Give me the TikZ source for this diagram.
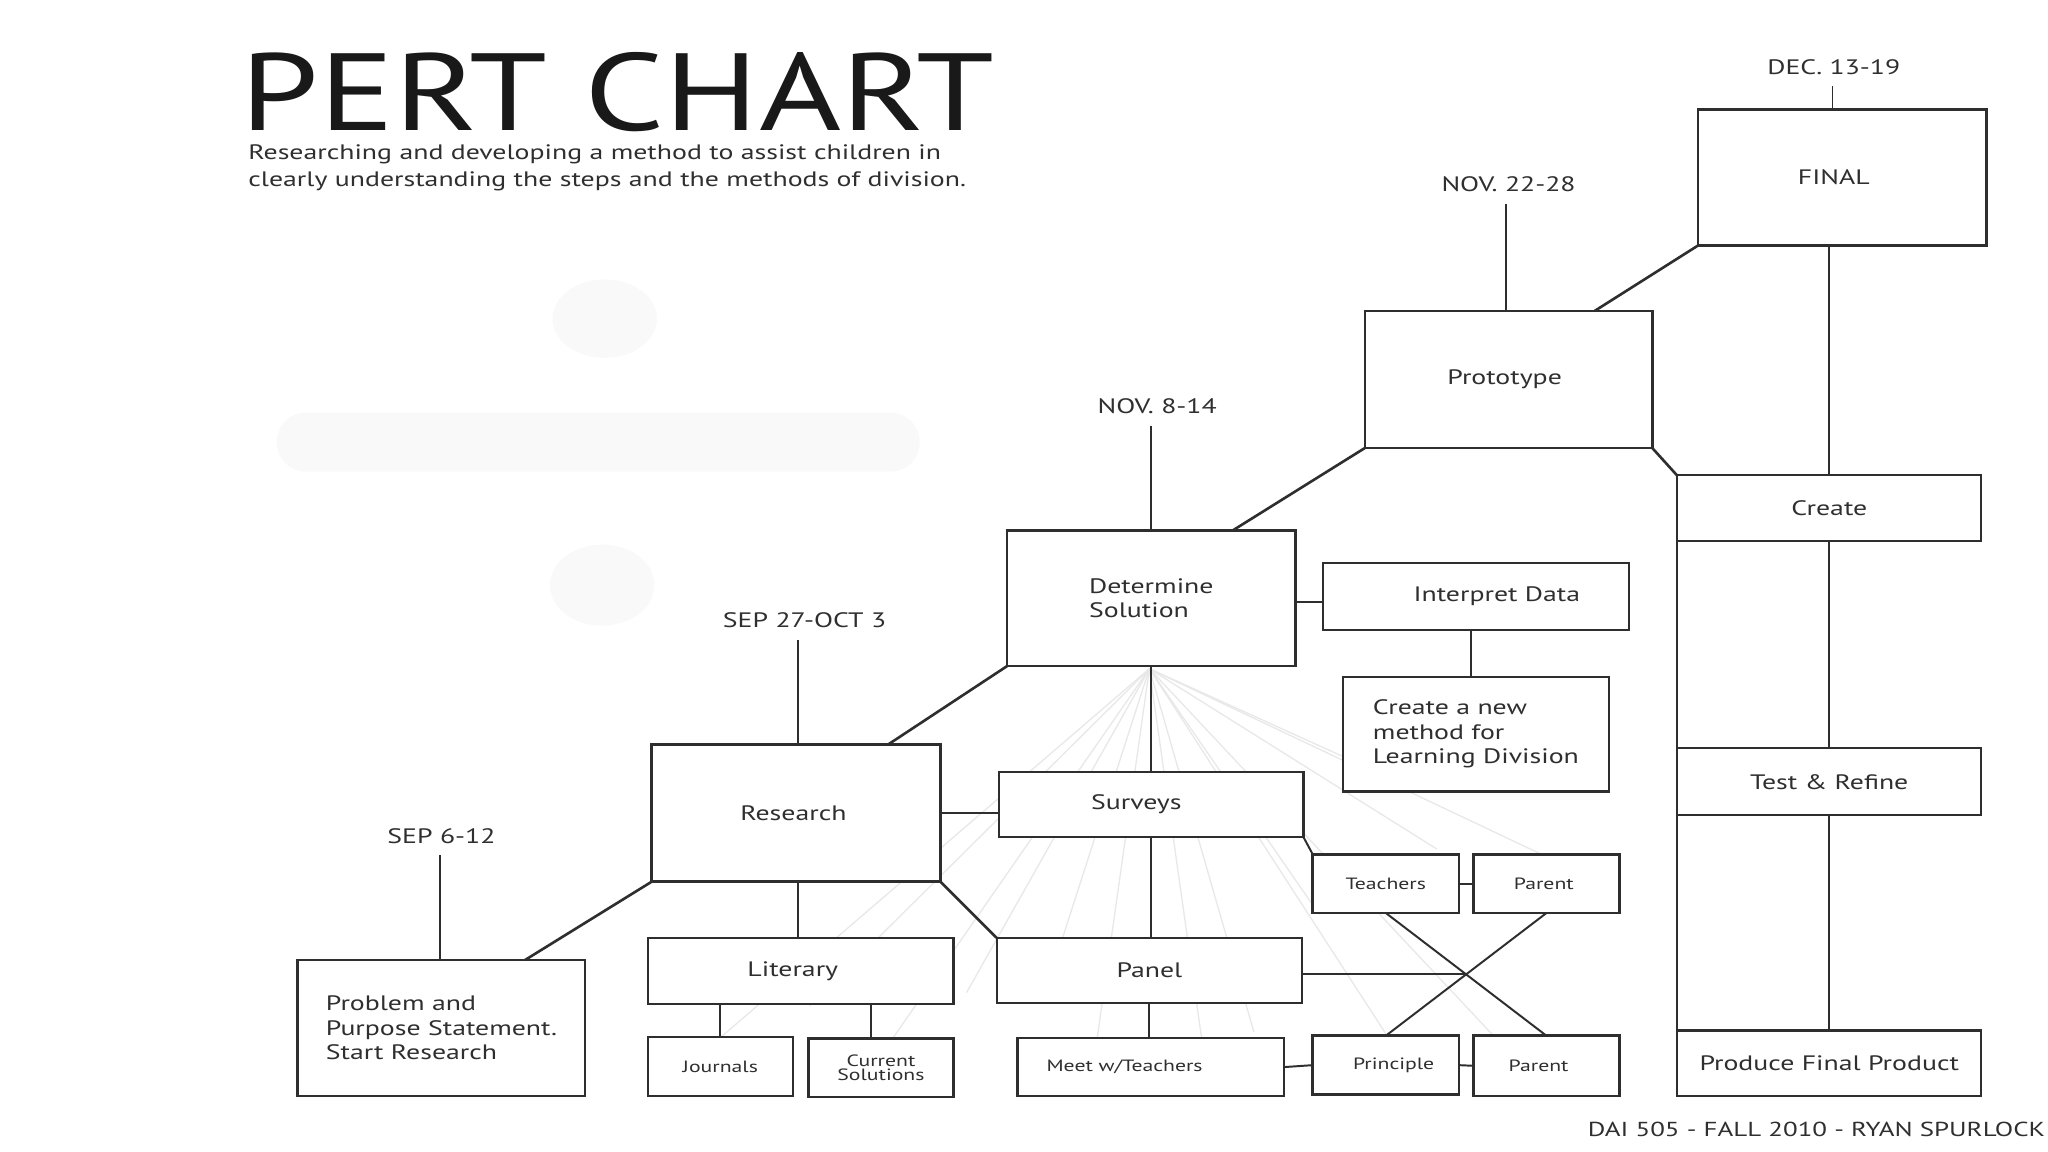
\documentclass[tikz,border=0pt]{standalone}
\usepackage{fontspec}
\setmainfont[FakeStretch=1.33]{PT Sans}
\newfontfamily\titlefont[FakeStretch=1.28]{PT Sans}
\usetikzlibrary{calc}
\definecolor{linec}{HTML}{2E2E2E}
\definecolor{txtc}{HTML}{2F2F2F}
\definecolor{fanc}{HTML}{E8E8E8}
\definecolor{wmark}{HTML}{FAF9F9}
\begin{document}
\begin{tikzpicture}[x=1pt,y=-1pt,
  bx/.style={draw=linec, line width=2pt, fill=white, inner sep=0pt, outer sep=0pt,
    text=txtc, font=\fontsize{16}{18.8}\selectfont, align=center},
  thinbx/.style={bx, line width=1.6pt},
  smallbx/.style={bx, line width=2pt, font=\fontsize{12.5}{11.2}\selectfont},
  datelbl/.style={text=txtc, font=\fontsize{16}{19}\selectfont, inner xsep=0pt, inner ysep=9pt, text depth=0pt},
  conn/.style={draw=linec, line width=1.5pt},
  major/.style={draw=linec, line width=2pt},
  fan/.style={draw=fanc, line width=1pt}
]
\useasboundingbox (0,0) rectangle (1568,882);
\fill[white] (0,0) rectangle (1568,882);

% faint division-sign watermark
\fill[wmark] (463,244) ellipse [x radius=40, y radius=30];
\fill[wmark, rounded corners=22pt] (212,316) rectangle (704,361);
\fill[wmark] (461,448) ellipse [x radius=40, y radius=31];

% title
\node[anchor=base west, inner sep=0pt, text depth=0pt, text=black!90, font=\titlefont\fontsize{84}{84}\selectfont] (title) at (184,100) {PERT CHART};
\node[anchor=base west, inner sep=0pt, text=txtc, align=left, font=\fontsize{16}{21}\selectfont] (subtitle) at (190,143)
  {Researching and developing a method to assist children in\\clearly understanding the steps and the methods of division.};

% faint fan lines from Determine Solution (drawn under boxes)
\coordinate (fanorigin) at (880,512);
\foreach \p in {(545,800),(620,770),(680,800),(740,760),(800,760),(840,795),(920,795),(960,790),(1010,700),(1062,793),(1150,800),(1180,654),(1030,580),(1100,650)}
  \draw[fan] (fanorigin) -- \p;

% boxes
\node[bx, minimum width=221, minimum height=104] (final) at (1410.5,136) {FINAL\hspace{13pt}};
\node[bx, minimum width=220, minimum height=105] (proto) at (1155,290.5) {Prototype\hspace{6pt}};
\node[thinbx, minimum width=233, minimum height=50] (create) at (1400.5,389) {Create};
\node[thinbx, minimum width=233, minimum height=51] (test) at (1400.5,598.5) {Test \& Refine};
\node[thinbx, minimum width=233, minimum height=50] (produce) at (1400.5,814) {Produce Final Product};
\node[bx, minimum width=221, minimum height=104, align=left] (determ) at (881.5,458) {Determine\\Solution};
\node[thinbx, minimum width=234, minimum height=51] (interp) at (1130,456.5) {\hspace{32pt}Interpret Data};
\node[thinbx, minimum width=204, minimum height=88, align=left] (newm) at (1130,562) {Create a new\\method for\\Learning Division};
\node[bx, minimum width=221, minimum height=105] (research) at (609.5,622.5) {Research\hspace{4pt}};
\node[thinbx, minimum width=233, minimum height=50] (surveys) at (881.5,616) {Surveys\hspace{23pt}};
\node[thinbx, minimum width=234, minimum height=50] (panel) at (880,743) {Panel};
\node[thinbx, minimum width=234, minimum height=51] (literary) at (613,743.5) {Literary\hspace{12pt}};
\node[smallbx, minimum width=111, minimum height=45] (journals) at (551.5,816.5) {Journals};
\node[smallbx, minimum width=111, minimum height=45] (current) at (674.5,817.5) {Current\\Solutions};
\node[bx, minimum width=220, minimum height=104, align=left] (problem) at (338,787) {Problem and\\Purpose Statement.\\Start Research};
\node[thinbx, minimum width=204, minimum height=44, font=\fontsize{12.5}{15}\selectfont] (meet) at (881,817) {Meet w/Teachers\hspace{40pt}};
\node[smallbx, minimum width=112, minimum height=45] (teachers) at (1061,676.5) {Teachers};
\node[smallbx, minimum width=112, minimum height=45] (parentA) at (1184,676.5) {Parent\hspace{4pt}};
\node[smallbx, minimum width=112, minimum height=45] (principle) at (1061,815.5) {\hspace{12pt}Principle};
\node[smallbx, minimum width=112, minimum height=46] (parentB) at (1184,816) {Parent\hspace{12pt}};

% date labels
\node[datelbl] (dec) at (1404,51) {DEC. 13-19};
\node[datelbl] (nov22) at (1155,141) {NOV. 22-28};
\node[datelbl] (nov8) at (886,311) {NOV. 8-14};
\node[datelbl] (sep27) at (616,475) {SEP 27-OCT 3};
\node[datelbl] (sep6) at (338,640) {SEP 6-12};

% footer
\node[anchor=east, inner sep=0pt, text=txtc, font=\fontsize{15.5}{18}\selectfont] (footer) at (1566,865) {DAI 505 - FALL 2010 - RYAN SPURLOCK};

% date ticks
\draw[conn] ([xshift=-1]dec.south) -- ([xshift=-1]dec.south |- final.north);
\draw[conn] ([xshift=-2]nov22.south) -- ([xshift=-2]nov22.south |- proto.north);
\draw[conn] ([xshift=-5]nov8.south) -- ([xshift=-5]nov8.south |- determ.north);
\draw[conn] ([xshift=-5]sep27.south) -- ([xshift=-5]sep27.south |- research.north);
\draw[conn] ([xshift=-1]sep6.south) -- ([xshift=-1]sep6.south |- problem.north);

% main path
\draw[major] ([xshift=64]problem.north) -- (research.south west);
\draw[major] ([xshift=70.5]research.north) -- (determ.south west);
\draw[major] ([xshift=62.5]determ.north) -- (proto.south west);
\draw[major] ([xshift=66]proto.north) -- (final.south west);
\draw[major] (proto.south east) -- (create.north west);

% right column
\draw[conn] (create.north |- final.south) -- (create.north);
\draw[conn] (create.south) -- (test.north);
\draw[conn] (test.south) -- (produce.north);
\draw[conn] (create.north west) -- (produce.north west);

% determine branch
\draw[conn] (interp.west |- 0,461) -- (determ.east |- 0,461);
\draw[conn] ([xshift=-4]interp.south) -- ([xshift=-4]interp.south |- newm.north);
\draw[conn] (determ.south) -- (surveys.north);

% research branch
\draw[conn] (research.east) -- (research.east -| surveys.west);
\draw[conn] (surveys.south) -- (surveys.south |- panel.north);
\draw[major] (research.south east) -- (panel.north west);
\draw[conn] ([xshift=1.5]research.south) -- ([xshift=1.5]research.south |- literary.north);
\draw[conn] (journals.north) -- (journals.north |- literary.south);
\draw[conn] ([xshift=-7.5]current.north) -- ([xshift=-7.5]current.north |- literary.south);
\draw[conn] (panel.south) -- (panel.south |- meet.north);

% survey / panel participants
\draw[conn] (surveys.south east) -- (teachers.north west);
\draw[conn] (teachers.east) -- (parentA.west);
\draw[conn] (meet.east) -- (principle.west);
\draw[conn] (principle.east) -- (parentB.west);
\draw[conn] (teachers.south) -- (parentB.north);
\draw[conn] (parentA.south) -- (principle.north);
\coordinate (cross) at ($(teachers.south)!0.5!(parentB.north)$);
\draw[conn] (cross -| panel.east) -- (cross);
\end{tikzpicture}
\end{document}
